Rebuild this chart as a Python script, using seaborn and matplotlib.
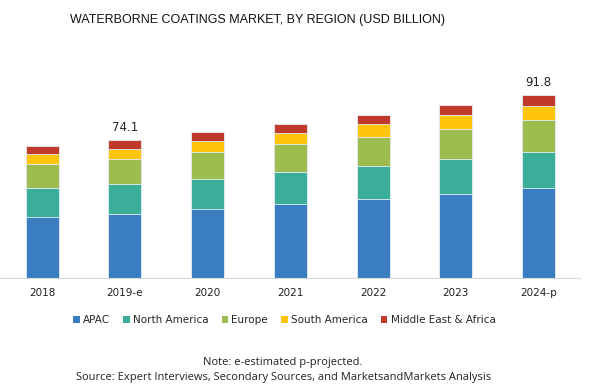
import pandas as pd
import matplotlib.pyplot as plt
import seaborn as sns
from matplotlib.patches import Patch

# data (USD billion)
years = ['2018', '2019-e', '2020', '2021', '2022', '2023', '2024-p']
apac = [32.8, 34.4, 37.1, 39.7, 42.4, 45.3, 48.7]
north_america = [15.6, 16.4, 16.4, 17.2, 18.1, 19.0, 19.3]
europe = [13.0, 13.4, 14.5, 15.0, 15.6, 16.1, 17.2]
south_america = [5.2, 5.4, 5.7, 6.1, 6.6, 7.1, 7.5]
mea = [4.3, 4.5, 4.7, 5.0, 5.2, 5.4, 5.7]
total_labels = {'2019-e': '74.1', '2024-p': '91.8'}

regions = ['APAC', 'North America', 'Europe', 'South America', 'Middle East & Africa']
colors = ['#3b7dc1', '#3aae99', '#9dbc4f', '#ffc40c', '#c0392b']

df = pd.DataFrame({'Year': years, 'APAC': apac, 'North America': north_america,
                   'Europe': europe, 'South America': south_america,
                   'Middle East & Africa': mea})

sns.set_style('white')
plt.rcParams['font.family'] = ['Liberation Sans', 'DejaVu Sans']

fig = plt.figure(figsize=(5.9, 3.92), dpi=100)
ax = fig.add_axes([0.0, 0.29, 0.983, 0.5225])

# stacked bars: draw cumulative sums from the top segment down
cum = df[regions].cumsum(axis=1)
for reg, col in reversed(list(zip(regions, colors))):
    sns.barplot(x=df['Year'], y=cum[reg], color=col, width=0.4, ax=ax,
                saturation=1, edgecolor='#e6eef5', linewidth=0.6)

for i, yr in enumerate(years):
    if yr in total_labels:
        ax.text(i, cum['Middle East & Africa'][i] + 3.5, total_labels[yr],
                ha='center', va='bottom', fontsize=8.5, color='#222222',
                family='DejaVu Sans')

ax.set_xlim(-0.51, 6.5)
ax.set_ylim(0, 110)
ax.set_xlabel('')
ax.set_ylabel('')
ax.set_yticks([])
sns.despine(ax=ax, left=True, top=True, right=True)
ax.spines['bottom'].set_color('#d9d9d9')
ax.spines['bottom'].set_linewidth(0.8)
ax.tick_params(axis='x', length=0, labelsize=7.5, pad=7, colors='#222222')
for t in ax.get_xticklabels():
    t.set_family('DejaVu Sans')

handles = [Patch(facecolor=c, edgecolor='none') for c in colors]
fig.legend(handles, regions, loc='center',
           bbox_to_anchor=(0.482, 0.183), ncol=5, frameon=False,
           handlelength=0.6, handleheight=0.6, handletextpad=0.3, columnspacing=1.3,
           prop={'family': 'DejaVu Sans', 'size': 7.5})

fig.text(0.436, 0.949, 'WATERBORNE COATINGS MARKET, BY REGION (USD BILLION)',
         ha='center', va='center', fontsize=9, color='#111111',
         family='Liberation Sans')
fig.text(0.48, 0.074, 'Note: e-estimated p-projected.', ha='center', va='center',
         fontsize=8, color='#222222', family='Open Sans')
fig.text(0.48, 0.036, 'Source: Expert Interviews, Secondary Sources, and MarketsandMarkets Analysis',
         ha='center', va='center', fontsize=8, color='#222222', family='Open Sans')

fig.savefig('out.png', dpi=100)
